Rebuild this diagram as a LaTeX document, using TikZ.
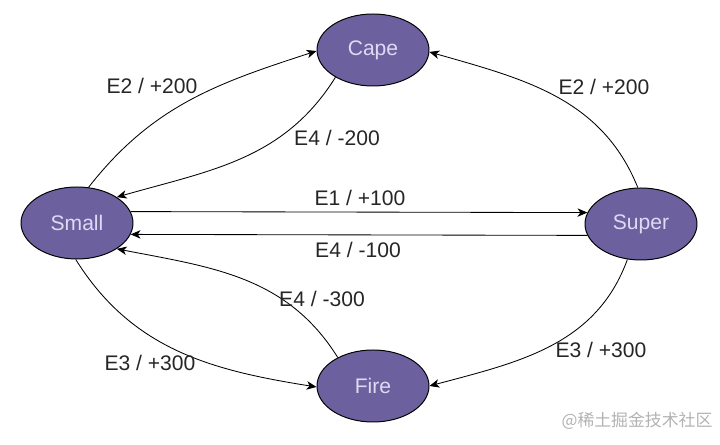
\documentclass[tikz,border=0pt]{standalone}
\usepackage{fontspec}
\setmainfont{Liberation Sans}
\newfontfamily\cjk{Noto Sans CJK SC}
\usepackage{xcolor}
\usetikzlibrary{shapes, arrows.meta, positioning}

\definecolor{statefill}{RGB}{108,97,158}
\definecolor{statetext}{RGB}{224,217,243}

\begin{document}
\begin{tikzpicture}[
        state/.style={ellipse, draw, line width=0.7pt, fill=statefill, text=statetext, minimum width=2.8cm, minimum height=1.8cm, inner sep=0pt, font=\fontsize{15}{18}\selectfont},
        arrow/.style={-{Stealth[length=7pt, width=6pt, inset=2pt]}, line width=0.6pt, draw, black},
        lbl/.style={font=\fontsize{15}{18}\selectfont, text=black!85}
    ]
    \useasboundingbox (0,0) rectangle (18,11.125);

    % States
    \node[state] (small) at (1.925, 5.55) {Small};
    \node[state] (cape) at (9.325, 9.875) {Cape};
    \node[state] (super) at (16.025, 5.525) {Super};
    \node[state] (fire) at (9.325, 1.475) {Fire};

    % Transitions - upper
    \draw[arrow] (small.72) to[out=52, in=198] (cape.181);
    \draw[arrow] (cape.216) to[out=238, in=16] (small.33);
    \draw[arrow] (super.95) to[out=112, in=344] (cape.358);

    % Transitions - middle
    \draw[arrow] (small.12) -- (super.168);
    \draw[arrow] (super.192) -- (small.348);

    % Transitions - lower
    \draw[arrow] (small.268) to[out=302, in=171] (fire.181);
    \draw[arrow] (fire.141) to[out=122, in=349] (small.327);
    \draw[arrow] (super.249) to[out=250, in=15] (fire.0);

    % Labels
    \node[lbl] (l1) at (3.8, 8.975) {E2 / +200};
    \node[lbl] (l2) at (8.425, 7.675) {E4 / -200};
    \node[lbl] (l3) at (15.1, 8.95) {E2 / +200};
    \node[lbl] (l4) at (9.0, 6.175) {E1 / +100};
    \node[lbl] (l5) at (8.95, 4.875) {E4 / -100};
    \node[lbl] (l6) at (8.05, 3.65) {E4 / -300};
    \node[lbl] (l7) at (3.75, 2.05) {E3 / +300};
    \node[lbl] (l8) at (15.025, 2.375) {E3 / +300};

    % Watermark
    \node[text=black!30, font=\cjk\fontsize{12}{14}\selectfont] (mark) at (15.925, 0.6) {@稀土掘金技术社区};

\end{tikzpicture}
\end{document}
